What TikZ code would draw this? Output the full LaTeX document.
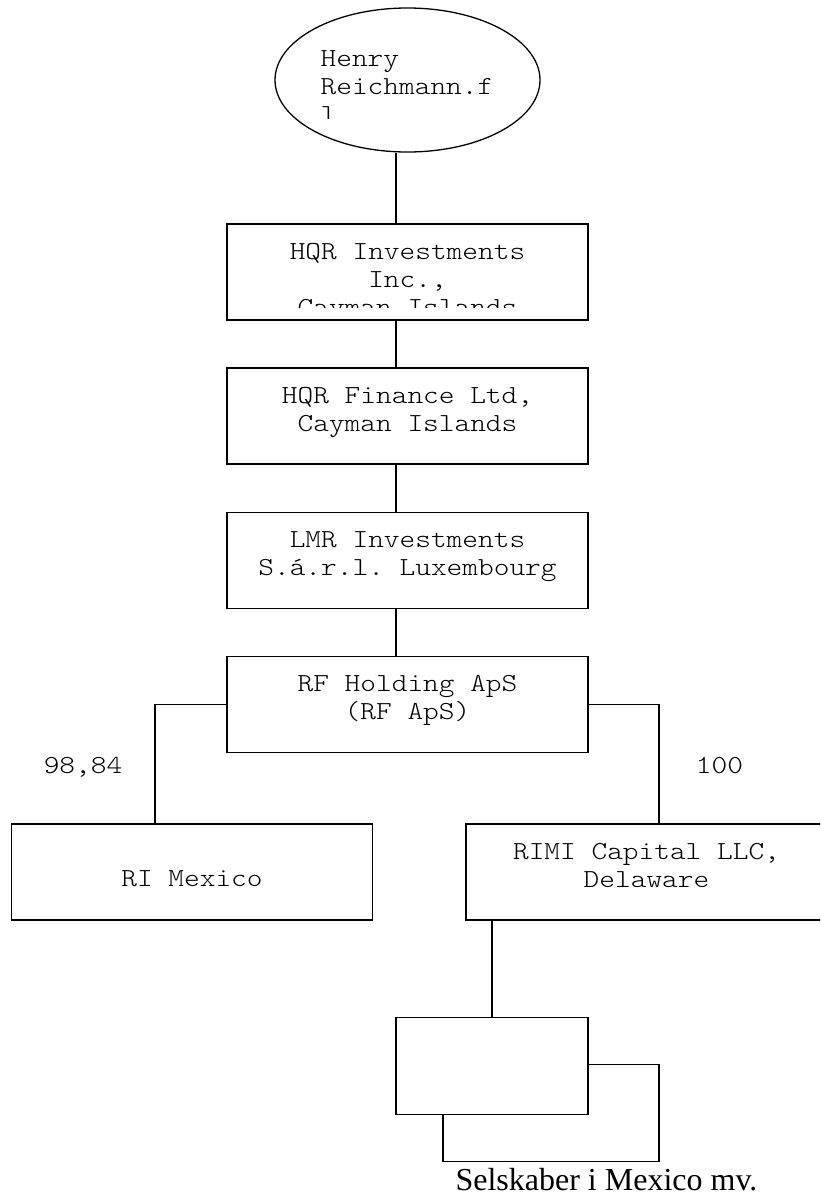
\documentclass[tikz,border=0pt]{standalone}
\usepackage{fontspec}
\setmainfont{Liberation Serif}
\setmonofont[FakeStretch=1.15]{Latin Modern Mono Light}
\usetikzlibrary{positioning,calc,shapes.geometric}

\begin{document}
\begin{tikzpicture}[x=1pt, y=-1pt, line width=1.3pt, node distance=19pt,
  bx/.style={draw, minimum width=361pt, minimum height=96pt, inner sep=0pt},
  sb/.style={draw, fill=white, minimum height=97pt, inner sep=0pt},
  tx/.style={font=\ttfamily\fontsize{26}{28}\selectfont, align=center, inner sep=0pt},
  el/.style={draw, ellipse, minimum width=265pt, minimum height=144pt, inner sep=0pt}]
  \clip (0,0) rectangle (820,1195);
  \coordinate (ax) at (396,0);
  % owner
  \node[el] (hr) at (407.5,80) {};
  \begin{scope}
    \clip (276,0) rectangle (540,118);
    \node[tx, align=left, anchor=north west] (hr-t) at (320,50) {Henry\\Reichmann.f\\l};
  \end{scope}
  % holding chain
  \node[bx] (hqi) at (407.5,272) {};
  \node[bx] (hqf) at (407.5,416) {};
  \node[bx] (lmr) at (407.5,560.5) {};
  \node[bx] (rfh) at (407.5,704.5) {};
  \begin{scope}
    \clip ([yshift=13pt]hqi.south west) rectangle (hqi.north east);
    \node[tx, below=of hqi.north] (hqi-t) {HQR Investments\\Inc.,\\Cayman Islands};
  \end{scope}
  \node[tx, below=of hqf.north] (hqf-t) {HQR Finance Ltd,\\Cayman Islands};
  \node[tx, below=of lmr.north] (lmr-t) {LMR Investments\\S.á.r.l. Luxembourg};
  \node[tx, below=of rfh.north] (rfh-t) {RF Holding ApS\\(RF ApS)};
  % subsidiaries
  \node[bx] (rim) at (192,872) {};
  \node[bx] (rcl) at (646.5,872) {};
  \node[tx, below=47pt of rim.north] (rim-t) {RI Mexico};
  \node[tx, below=of rcl.north] (rcl-t) {RIMI Capital LLC,\\Delaware};
  \node[tx, anchor=base] (p1) at (83,773) {98,84};
  \node[tx, anchor=base] (p2) at (719.5,773) {100};
  % companies in Mexico
  \node[sb, minimum width=216pt] (smb) at (551,1113) {};
  \node[sb, minimum width=192pt] (smf) at (492,1066) {};
  \node[font=\fontsize{32}{36}\selectfont, anchor=base, inner sep=0pt, text depth=0pt] (sel) at (606.5,1190) {Selskaber i Mexico mv.};
  % ownership lines
  \draw (hr.south -| ax) -- (hqi.north -| ax);
  \draw (hqi.south -| ax) -- (hqf.north -| ax);
  \draw (hqf.south -| ax) -- (lmr.north -| ax);
  \draw (lmr.south -| ax) -- (rfh.north -| ax);
  \draw (rfh.west) -| ([xshift=-37pt]rim.north);
  \draw (rfh.east) -| ([xshift=12.5pt]rcl.north);
  \draw (smf.north |- rcl.south) -- (smf.north);
\end{tikzpicture}
\end{document}
